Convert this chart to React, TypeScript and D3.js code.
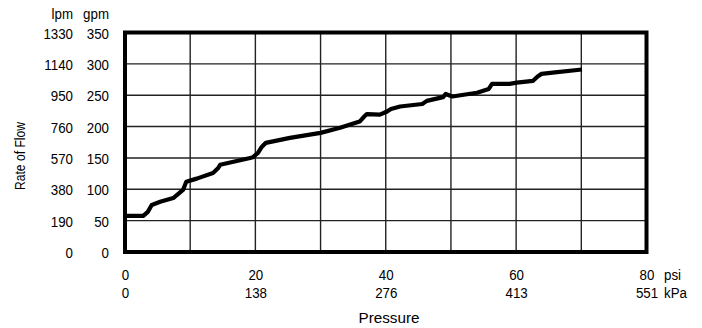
import React, { useEffect, useRef } from "react";
import * as d3 from "d3";

// flow curve
const pressurePsi = [0, 2.8, 3.5, 4.1, 5.4, 7.4, 8.9, 9.4, 11, 13.5, 14.3, 14.6, 19.2, 19.6, 20.4, 21, 21.6, 25.3, 30, 33, 36, 36.7, 37.1, 39.1, 40.2, 40.8, 42.2, 45.6, 46.3, 48.8, 49.2, 50.2, 54, 55.8, 56.3, 59, 60.1, 62.6, 63.3, 63.9, 65.6, 70.1];
const flowGpm = [57.5, 57.5, 64, 75, 80, 86, 99, 112, 117, 126, 134, 139, 150, 151, 158, 168, 174, 182, 190, 198, 208, 216, 220, 219, 224, 228, 232, 236, 241, 247, 252, 248, 254, 260, 268, 268, 270, 273, 280, 284, 286, 291];

const gpmTicks = [0, 50, 100, 150, 200, 250, 300, 350];
const lpmTicks = [0, 190, 380, 570, 760, 950, 1140, 1330];
const psiTicks = [0, 20, 40, 60, 80];
const kpaTicks = ["0", "138", "276", "413", "551"];
const psiGrid = [10, 20, 30, 40, 50, 60, 70];

const font = "'Liberation Sans', Arial, sans-serif";
const narrow = "scale(0.86,1)"; // the original labels use a condensed face

export default function App() {
  const ref = useRef<SVGSVGElement>(null);

  useEffect(() => {
    const svg = d3.select(ref.current);
    svg.selectAll("*").remove();

    const left = 125, right = 646.5, top = 32.5, bottom = 252;

    const x = d3.scaleLinear().domain([0, 80]).range([left, right]);
    const y = d3.scaleLinear().domain([0, 350]).range([bottom, top]);
    const yLpm = d3.scaleLinear().domain([0, 1330]).range([bottom, top]);

    // grid
    svg.append("g")
      .selectAll("line")
      .data(psiGrid)
      .join("line")
      .attr("x1", d => x(d)).attr("x2", d => x(d))
      .attr("y1", top).attr("y2", bottom)
      .attr("stroke", "#222").attr("stroke-width", 1.4);

    svg.append("g")
      .selectAll("line")
      .data(gpmTicks.slice(1, -1))
      .join("line")
      .attr("x1", left).attr("x2", right)
      .attr("y1", d => y(d)).attr("y2", d => y(d))
      .attr("stroke", "#222").attr("stroke-width", 1.4);

    // frame
    svg.append("rect")
      .attr("x", left).attr("y", top)
      .attr("width", right - left).attr("height", bottom - top)
      .attr("fill", "none").attr("stroke", "#000").attr("stroke-width", 4);

    // flow line
    const line = d3.line<number>()
      .x((d, i) => x(pressurePsi[i]))
      .y(d => y(d));

    svg.append("path")
      .datum(flowGpm)
      .attr("d", line)
      .attr("fill", "none")
      .attr("stroke", "#000")
      .attr("stroke-width", 4.2)
      .attr("stroke-linejoin", "round");

    // y axes (gpm and lpm)
    const gpmAxis = svg.append("g")
      .attr("transform", `translate(109,0)`)
      .call(d3.axisLeft(y).tickValues(gpmTicks).tickSize(0).tickPadding(0));
    const lpmAxis = svg.append("g")
      .attr("transform", `translate(73,0)`)
      .call(d3.axisLeft(yLpm).tickValues(lpmTicks).tickSize(0).tickPadding(0).tickFormat(d3.format("d")));
    [gpmAxis, lpmAxis].forEach(a => {
      a.select(".domain").remove();
      a.selectAll("text")
        .attr("font-family", font).attr("font-size", 15.5).attr("fill", "#000")
        .attr("dy", "0.36em").attr("transform", narrow);
    });

    // x axes (psi and kPa)
    const psiAxis = svg.append("g")
      .attr("transform", `translate(0,274)`)
      .call(d3.axisBottom(x).tickValues(psiTicks).tickSize(0).tickPadding(0));
    const kpaAxis = svg.append("g")
      .attr("transform", `translate(0,292)`)
      .call(d3.axisBottom(x).tickValues(psiTicks).tickSize(0).tickPadding(0).tickFormat((d, i) => kpaTicks[i]));
    [psiAxis, kpaAxis].forEach(a => {
      a.select(".domain").remove();
      a.selectAll("text")
        .attr("font-family", font).attr("font-size", 15.5).attr("fill", "#000")
        .attr("dy", "0.36em").attr("transform", narrow);
    });

    const label = (s: string, tx: number, ty: number, anchor: string) =>
      svg.append("text")
        .attr("transform", `translate(${tx},${ty}) ${narrow}`)
        .attr("text-anchor", anchor)
        .attr("font-family", font)
        .attr("font-size", 15.5)
        .attr("dy", "0.36em")
        .text(s);

    label("lpm", 73, 13, "end");
    label("gpm", 109, 13, "end");
    label("psi", 664, 274, "start");
    label("kPa", 664, 292, "start");

    svg.append("text")
      .attr("x", 389).attr("y", 323)
      .attr("text-anchor", "middle")
      .attr("font-family", font)
      .attr("font-size", 15.5)
      .attr("textLength", 61)
      .attr("lengthAdjust", "spacingAndGlyphs")
      .text("Pressure");

    svg.append("text")
      .attr("transform", "translate(25,156) rotate(-90)")
      .attr("text-anchor", "middle")
      .attr("font-family", font)
      .attr("font-size", 15.5)
      .attr("textLength", 68)
      .attr("lengthAdjust", "spacingAndGlyphs")
      .text("Rate of Flow");
  }, []);

  return (
    <svg ref={ref} width={702} height={328}
      style={{ position: "absolute", left: 0, top: 0, background: "#fff" }} />
  );
}
